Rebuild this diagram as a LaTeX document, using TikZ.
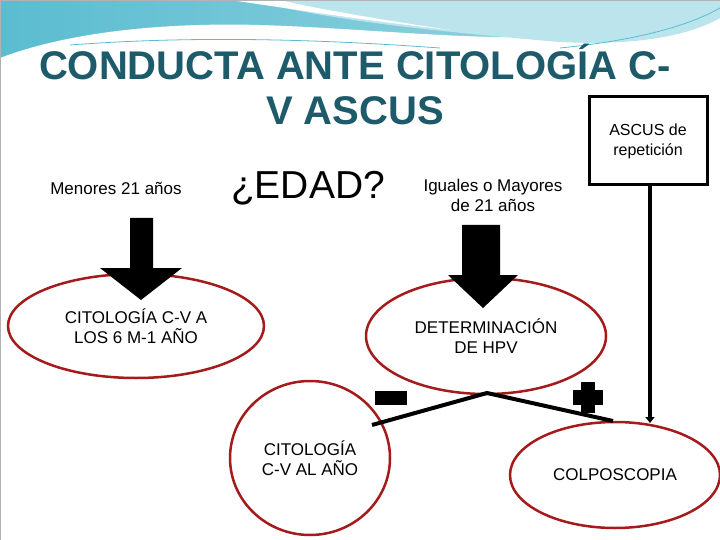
\documentclass[tikz,border=0pt]{standalone}
\usepackage{fontspec}
\setmainfont{Liberation Sans}
\usetikzlibrary{arrows.meta}
\definecolor{teal1}{HTML}{5BBCD0}
\definecolor{teal2}{HTML}{9ED8E4}
\definecolor{titlec}{HTML}{1D5A6A}
\definecolor{ered}{HTML}{A51A1A}
\tikzset{x=1pt,y=-1pt,
 ell/.style={draw=ered,line width=2.5pt,ellipse,align=center,font=\fontsize{17}{20}\selectfont},
 lbl/.style={align=center,font=\fontsize{17}{20}\selectfont},
 bigarrow/.style={fill=black}}
\usetikzlibrary{shapes.geometric}
\begin{document}
\begin{tikzpicture}
\useasboundingbox (0,0) rectangle (720,540);
\fill[white] (0,0) rectangle (720,540);
\shade[left color=teal1,right color=teal2] (0,0) -- (720,0) -- (720,70) -- (0,70) -- cycle;
\fill[white] (0,58) .. controls (60,35) and (150,22) .. (260,25) .. controls (420,30) and (560,55) .. (720,15) -- (720,70) -- (0,70) -- cycle;
\fill[teal2!70] (250,0) .. controls (330,20) and (420,30) .. (560,42) .. controls (640,46) and (690,35) .. (720,18) -- (720,0) -- cycle;
\fill[white] (230,0) .. controls (300,10) and (360,20) .. (450,30) .. controls (350,15) and (300,5) .. (280,0) -- cycle;
\draw[teal1,line width=0.8pt] (70,45) .. controls (200,35) and (330,40) .. (440,48);
\draw[teal1,line width=0.8pt] (560,48) .. controls (640,40) and (690,25) .. (720,8);
\node[font=\bfseries\fontsize{40}{45}\selectfont,text=titlec,align=center] (title) at (355,84) {CONDUCTA ANTE CITOLOGÍA C-\\V ASCUS};
\node[draw,line width=3pt,minimum width=118pt,minimum height=88pt,align=center,font=\fontsize{16}{20}\selectfont,fill=white] (box) at (648,141) {ASCUS de\\repetición};
\node[lbl] (men) at (116,188) {Menores 21 años};
\node[font=\fontsize{39}{44}\selectfont] (edad) at (308,188) {¿EDAD?};
\node[lbl] (may) at (493,195) {Iguales o Mayores\\de 21 años};
\node[ell,minimum width=256pt,minimum height=104pt] (c6) at (136,326) {CITOLOGÍA C-V A\\LOS 6 M-1 AÑO};
\node[ell,minimum width=240pt,minimum height=116pt] (hpv) at (486,336) {DETERMINACIÓN\\DE HPV};
\node[ell,minimum width=160pt,minimum height=154pt] (cano) at (310,458) {CITOLOGÍA\\C-V AL AÑO};
\node[ell,minimum width=210pt,minimum height=106pt] (colpo) at (615,475) {COLPOSCOPIA};
\fill[bigarrow] (130,218) -- (153,218) -- (153,268) -- (182,268) -- (141,300) -- (100,268) -- (130,268) -- cycle;
\fill[bigarrow] (462,225) -- (500,225) -- (500,275) -- (518,275) -- (483,308) -- (448,275) -- (462,275) -- cycle;
\coordinate (apex) at (487,393);
\coordinate (boxb) at (650,186);
\draw[line width=4pt] (372,425) -- (apex) -- (613,421);
\draw[line width=4pt,-{Triangle[length=6pt,width=9pt]}] (box.south -| boxb) -- (650,423);
\fill (375,391) rectangle (407,405);
\fill (581,382) rectangle (595,413);
\fill (573,390) rectangle (603,405);
\draw[gray!60] (0,0) rectangle (720,540);
\end{tikzpicture}
\end{document}
